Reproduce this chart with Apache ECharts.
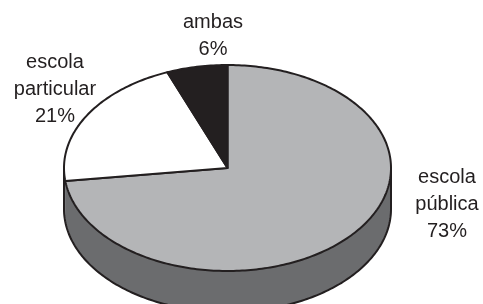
<!DOCTYPE html>
<html>
<head>
<meta charset="utf-8">
<script src="https://cdn.jsdelivr.net/npm/echarts@6/dist/echarts.min.js"></script>
<style>html,body{margin:0;padding:0;background:#fff}#c{width:483px;height:304px}</style>
</head>
<body>
<div id="c"></div>
<script>
// ---- data ----
var categories = ['escola\npública', 'escola\nparticular', 'ambas'];
var values = [73, 21, 6];
var sliceColors = ['#b4b5b7', '#ffffff', '#231f20'];

// ---- layout ----
var CX = 227.5, CY = 168, RX = 163.5, RY = 103, DEPTH = 41;
var OUT = '#231f20', SIDE = '#6b6c6e';
var total = values.reduce(function (a, b) { return a + b; }, 0);
function startAngle(i) { var s = 0; for (var k = 0; k < i; k++) s += values[k]; return s / total * 2 * Math.PI; }
function pt(t, dy) { return [CX + RX * Math.sin(t), CY - RY * Math.cos(t) + (dy || 0)]; }
function arc(a0, a1, dy) {
  var pts = [], n = Math.max(2, Math.ceil(Math.abs(a1 - a0) / (Math.PI / 180)));
  for (var j = 0; j <= n; j++) pts.push(pt(a0 + (a1 - a0) * j / n, dy));
  return pts;
}

function renderSide(params, api) {
  var i = params.dataIndex;
  var a0 = startAngle(i), a1 = a0 + api.value(1) / total * 2 * Math.PI;
  var s = Math.max(a0, Math.PI / 2), e = Math.min(a1, 1.5 * Math.PI);
  if (e <= s) return null;
  var top = arc(s, e, 0), bot = arc(e, s, DEPTH);
  var children = [{
    type: 'polygon', shape: { points: top.concat(bot) },
    style: { fill: SIDE, stroke: SIDE, lineWidth: 0.5 }
  }, {
    type: 'polyline', shape: { points: arc(s, e, DEPTH) },
    style: { fill: null, stroke: OUT, lineWidth: 2 }
  }];
  if (Math.abs(s - Math.PI / 2) < 1e-6) children.push({ type: 'line', shape: { x1: pt(s)[0], y1: pt(s)[1], x2: pt(s)[0], y2: pt(s)[1] + DEPTH }, style: { stroke: OUT, lineWidth: 2 } });
  if (Math.abs(e - 1.5 * Math.PI) < 1e-6) children.push({ type: 'line', shape: { x1: pt(e)[0], y1: pt(e)[1], x2: pt(e)[0], y2: pt(e)[1] + DEPTH }, style: { stroke: OUT, lineWidth: 2 } });
  return { type: 'group', children: children };
}

function renderTop(params, api) {
  var i = params.dataIndex;
  var a0 = startAngle(i), a1 = a0 + api.value(1) / total * 2 * Math.PI;
  var pts = [[CX, CY]].concat(arc(a0, a1, 0));
  return {
    type: 'polygon', shape: { points: pts },
    style: { fill: sliceColors[i], stroke: OUT, lineWidth: 2, lineJoin: 'round' }
  };
}

var seriesData = values.map(function (v, i) { return [i, v]; });
var labelStyle = { fontFamily: 'Liberation Sans, Arial, sans-serif', fontSize: 20, fill: '#231f20', align: 'center', verticalAlign: 'middle', lineHeight: 27 };
function lbl(i) { return categories[i] + '\n' + values[i] + '%'; }

var chart = echarts.init(document.getElementById('c'), null, { renderer: 'canvas' });
chart.setOption({
  animation: false,
  backgroundColor: '#ffffff',
  series: [
    { type: 'custom', coordinateSystem: 'none', renderItem: renderSide, data: seriesData, z: 1, silent: true },
    { type: 'custom', coordinateSystem: 'none', renderItem: renderTop, data: seriesData, z: 2, silent: true }
  ],
  graphic: [
    { type: 'text', x: 447, y: 204, style: Object.assign({ text: lbl(0) }, labelStyle) },
    { type: 'text', x: 55, y: 89, style: Object.assign({ text: lbl(1) }, labelStyle) },
    { type: 'text', x: 213, y: 36, style: Object.assign({ text: lbl(2).replace('\n', '\n') }, labelStyle) }
  ]
});
</script>
</body>
</html>
